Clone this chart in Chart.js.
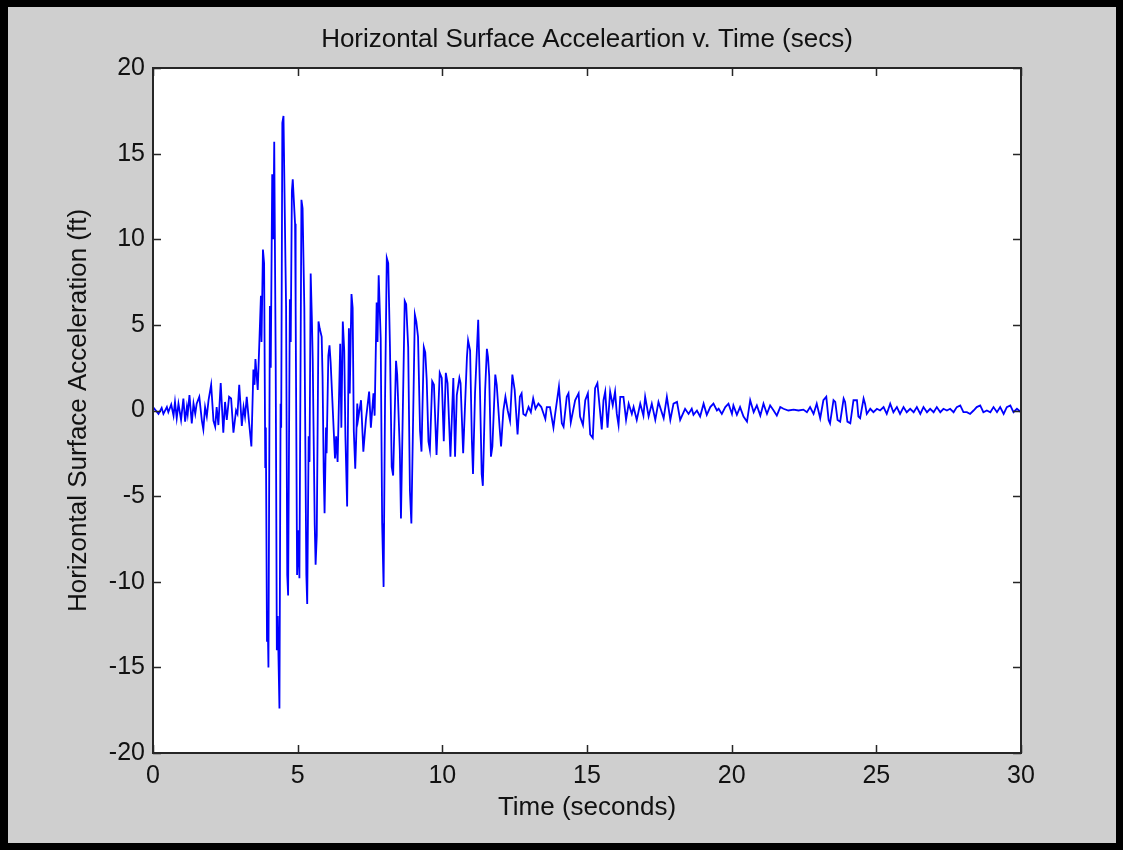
<!doctype html>
<html>

<head>
    <title>Horizontal Surface Acceleration</title>
    <script src="https://cdn.jsdelivr.net/npm/chart.js@4.4.1/dist/chart.umd.min.js"></script>
    <style>
        html, body {
            margin: 0;
            padding: 0;
            background: #000;
            overflow: hidden;
        }
        canvas {
            display: block;
        }
    </style>
</head>

<body>
<canvas id="chart-area" width="1123" height="850"></canvas>

<script>
    // time (s) and acceleration
    var timeSec = [
        0.00, 0.19, 0.30, 0.36, 0.48, 0.53, 0.63, 0.71, 0.76, 0.82, 0.88, 0.97, 1.05, 1.11, 1.17, 1.20,
        1.26, 1.34, 1.40, 1.46, 1.51, 1.60, 1.69, 1.74, 1.80, 1.86, 1.92, 2.01, 2.09, 2.15, 2.20, 2.26,
        2.34, 2.43, 2.49, 2.55, 2.63, 2.70, 2.78, 2.87, 2.92, 2.98, 3.07, 3.13, 3.18, 3.24, 3.32, 3.40,
        3.47, 3.51, 3.54, 3.62, 3.73, 3.75, 3.80, 3.84, 3.88, 3.90, 3.94, 3.96, 3.99, 4.04, 4.07, 4.12,
        4.16, 4.19, 4.24, 4.28, 4.31, 4.37, 4.41, 4.43, 4.47, 4.51, 4.58, 4.60, 4.64, 4.67, 4.73, 4.76,
        4.80, 4.83, 4.91, 4.93, 4.98, 5.03, 5.06, 5.13, 5.17, 5.23, 5.30, 5.33, 5.38, 5.41, 5.45, 5.49,
        5.52, 5.59, 5.62, 5.66, 5.72, 5.76, 5.83, 5.86, 5.90, 5.93, 5.98, 6.00, 6.06, 6.10, 6.14, 6.29,
        6.33, 6.38, 6.47, 6.51, 6.56, 6.61, 6.65, 6.71, 6.77, 6.80, 6.86, 6.90, 6.94, 6.99, 7.06, 7.09,
        7.19, 7.27, 7.36, 7.47, 7.53, 7.62, 7.66, 7.73, 7.76, 7.80, 7.87, 7.92, 7.94, 7.97, 8.02, 8.08,
        8.13, 8.19, 8.25, 8.30, 8.40, 8.44, 8.53, 8.57, 8.70, 8.75, 8.82, 8.88, 8.93, 9.05, 9.10, 9.16,
        9.23, 9.28, 9.36, 9.41, 9.46, 9.52, 9.57, 9.65, 9.71, 9.80, 9.91, 9.98, 10.05, 10.12, 10.18, 10.28,
        10.38, 10.44, 10.50, 10.59, 10.63, 10.72, 10.85, 10.89, 10.96, 11.02, 11.06, 11.13, 11.24, 11.30, 11.36, 11.40,
        11.48, 11.54, 11.58, 11.62, 11.68, 11.73, 11.83, 11.88, 11.98, 12.03, 12.11, 12.18, 12.26, 12.34, 12.42, 12.50,
        12.60, 12.68, 12.74, 12.80, 12.88, 12.98, 13.06, 13.14, 13.22, 13.32, 13.42, 13.56, 13.61, 13.72, 13.84, 13.90,
        14.03, 14.13, 14.19, 14.30, 14.36, 14.44, 14.59, 14.71, 14.76, 14.86, 14.94, 15.03, 15.11, 15.20, 15.28, 15.36,
        15.46, 15.51, 15.57, 15.63, 15.71, 15.80, 15.89, 15.97, 16.03, 16.09, 16.15, 16.26, 16.35, 16.44, 16.55, 16.61,
        16.72, 16.84, 16.95, 17.01, 17.13, 17.24, 17.36, 17.47, 17.65, 17.76, 17.88, 17.99, 18.11, 18.22, 18.39, 18.51,
        18.62, 18.68, 18.80, 18.91, 19.03, 19.14, 19.26, 19.37, 19.49, 19.55, 19.66, 19.78, 19.89, 20.01, 20.06, 20.18,
        20.29, 20.41, 20.53, 20.64, 20.76, 20.87, 20.99, 21.10, 21.22, 21.33, 21.45, 21.56, 21.68, 21.79, 21.96, 22.14,
        22.31, 22.48, 22.60, 22.71, 22.83, 22.94, 23.06, 23.17, 23.27, 23.35, 23.40, 23.52, 23.58, 23.66, 23.75, 23.87,
        23.92, 24.00, 24.10, 24.21, 24.33, 24.38, 24.44, 24.56, 24.61, 24.67, 24.79, 24.90, 25.02, 25.13, 25.25, 25.36,
        25.48, 25.59, 25.71, 25.82, 25.94, 26.05, 26.17, 26.29, 26.40, 26.52, 26.63, 26.75, 26.86, 26.98, 27.09, 27.21,
        27.32, 27.44, 27.55, 27.67, 27.78, 27.90, 28.01, 28.13, 28.24, 28.36, 28.47, 28.59, 28.70, 28.82, 28.94, 29.05,
        29.17, 29.28, 29.40, 29.51, 29.63, 29.74, 29.86, 30.00
    ];

    var accel = [
        0.2, -0.2, 0.15, -0.2, 0.2, -0.1, 0.35, -0.3, 0.5, -0.45, 0.4, -0.55, 0.7, -0.65, 0.2, -0.2,
        0.9, -0.75, 0.4, -0.2, 0.4, 0.8, -0.6, -1.1, 0.2, -0.35, 0.6, 1.5, -0.6, -0.95, 0.2, -0.85,
        1.6, -1.3, 0.5, -0.55, 0.8, 0.7, -1.3, 0.0, -0.2, 1.5, -0.9, 0.2, -0.35, 0.8, -0.7, -2.1,
        2.4, 1.5, 3.0, 1.2, 6.7, 4.0, 9.4, 8.6, -3.3, -1.0, -13.5, -11.7, -15.0, 6.1, 2.5, 13.8,
        10.0, 15.7, 3.0, -14.0, -12.0, -17.4, 0.4, -1.0, 16.8, 17.2, 8.4, 6.0, -9.6, -10.8, 6.5, 4.0,
        12.8, 13.5, 10.9, 6.0, -9.6, -7.0, -9.8, 12.3, 11.8, 6.0, -9.6, -11.3, -1.5, -3.0, 8.0, 5.4,
        3.0, -6.7, -9.0, -7.3, 5.2, 4.8, 4.3, 2.0, -3.6, -6.0, -1.0, -2.5, 3.2, 3.8, 2.8, -2.8,
        -1.5, -3.0, 3.9, -1.0, 5.2, 3.5, -1.5, -5.6, 4.8, 1.0, 6.8, 6.0, -1.2, -3.4, 0.4, -0.5,
        0.6, -2.4, -0.5, 1.1, -1.0, 1.0, -0.3, 6.3, 4.0, 7.9, 4.2, -6.6, -8.1, -10.3, 0.6, 8.9,
        8.6, 3.7, -3.3, -3.8, 2.9, 2.1, -2.3, -6.3, 6.4, 6.2, 3.7, -4.7, -6.6, 5.6, 5.2, 4.3,
        -1.2, -2.4, 3.7, 3.4, 1.8, -1.8, -2.3, 1.7, 1.5, -2.6, 2.2, 1.9, -1.8, 2.2, 1.6, -2.7,
        1.9, -2.7, 0.9, 1.9, 1.6, -2.5, 3.1, 4.1, 3.5, -1.7, -3.7, 1.0, 5.3, 1.2, -3.7, -4.4,
        1.2, 3.6, 3.1, 2.0, -2.7, -2.1, 2.1, 1.5, -1.0, -2.1, 0.0, 0.8, 0.0, -0.6, 2.1, 1.2,
        -1.4, 0.8, 1.0, -0.2, -0.3, 0.2, -0.1, 0.7, 0.1, 0.4, 0.2, -0.5, 0.2, 0.2, -1.0, -0.2,
        1.4, -0.75, -0.95, 0.8, 1.0, -0.7, 0.6, 1.0, -0.36, -0.85, 0.6, 1.0, -1.4, -1.6, 1.3, 1.6,
        -0.2, -1.1, 0.6, 1.1, -1.0, 1.1, 0.3, 1.1, -0.2, -0.85, 0.8, 0.8, -0.55, 0.4, -0.2, 0.2,
        -0.55, 0.4, -0.3, 0.8, -0.35, 0.4, -0.55, 0.5, -0.45, 0.8, -0.55, 0.4, 0.5, -0.55, 0.1, -0.2,
        0.1, -0.25, 0.0, -0.35, 0.4, -0.25, 0.2, 0.4, 0.0, 0.1, -0.2, 0.2, 0.4, -0.2, 0.3, -0.25,
        0.2, -0.35, -0.65, 0.6, -0.1, 0.3, -0.3, 0.4, -0.2, 0.3, 0.0, -0.3, 0.2, 0.1, 0.0, 0.05,
        0.0, 0.05, -0.1, 0.2, -0.2, 0.4, -0.45, 0.6, 0.8, -0.55, -0.75, 0.6, 0.5, -0.55, -0.65, 0.7,
        0.5, -0.65, -0.75, 0.6, 0.6, -0.35, -0.45, 0.7, 0.4, -0.2, 0.1, -0.1, 0.1, 0.0, 0.2, -0.2,
        0.4, -0.1, 0.2, -0.2, 0.2, -0.1, 0.1, -0.1, 0.2, -0.2, 0.2, -0.1, 0.1, -0.1, 0.2, -0.1,
        0.1, 0.0, 0.1, -0.1, 0.2, 0.3, -0.1, -0.1, -0.2, 0.0, 0.2, 0.3, -0.1, 0.0, -0.1, 0.2,
        -0.1, 0.2, -0.2, 0.2, 0.3, -0.1, 0.1, -0.1
    ];

    var xTicks = [0, 5, 10, 15, 20, 25, 30];
    var yTicks = [-20, -15, -10, -5, 0, 5, 10, 15, 20];

    var points = timeSec.map(function(t, i) {
        return {x: t, y: accel[i]};
    });

    var fontName = '"Liberation Sans", Arial, sans-serif';

    // gray figure, black frame, white axes background
    var backdrop = {
        id: 'backdrop',
        beforeDraw: function(chart) {
            var ctx = chart.ctx;
            var a = chart.chartArea;
            ctx.save();
            ctx.fillStyle = '#000';
            ctx.fillRect(0, 0, chart.width, chart.height);
            ctx.fillStyle = '#cfcfcf';
            ctx.fillRect(8, 7, chart.width - 15, chart.height - 14);
            ctx.fillStyle = '#fff';
            ctx.fillRect(a.left, a.top, a.right - a.left, a.bottom - a.top);
            ctx.restore();
        }
    };

    // matlab style box with inward ticks on all four sides
    var boxTicks = {
        id: 'boxTicks',
        afterDraw: function(chart) {
            var ctx = chart.ctx;
            var a = chart.chartArea;
            var xs = chart.scales.x;
            var ys = chart.scales.y;
            var len = 8;
            ctx.save();
            ctx.strokeStyle = '#262626';
            ctx.lineWidth = 1.5;
            ctx.beginPath();
            xTicks.forEach(function(v) {
                var px = Math.round(xs.getPixelForValue(v)) + 0.5;
                ctx.moveTo(px, a.bottom);
                ctx.lineTo(px, a.bottom - len);
                ctx.moveTo(px, a.top);
                ctx.lineTo(px, a.top + len);
            });
            yTicks.forEach(function(v) {
                var py = Math.round(ys.getPixelForValue(v)) + 0.5;
                ctx.moveTo(a.left, py);
                ctx.lineTo(a.left + len, py);
                ctx.moveTo(a.right, py);
                ctx.lineTo(a.right - len, py);
            });
            ctx.stroke();
            ctx.lineWidth = 2;
            ctx.strokeRect(a.left, a.top, a.right - a.left, a.bottom - a.top);
            ctx.restore();
        }
    };

    var config = {
        type: 'line',
        data: {
            datasets: [{
                label: 'Acceleration',
                data: points,
                borderColor: '#0000ff',
                borderWidth: 1.8,
                pointRadius: 0,
                tension: 0,
                fill: false
            }]
        },
        options: {
            responsive: false,
            animation: false,
            layout: {
                padding: {left: 0, right: 102, top: 0, bottom: 0}
            },
            plugins: {
                legend: {display: false},
                tooltip: {enabled: false},
                title: {
                    display: true,
                    fullSize: false,
                    text: 'Horizontal Surface Acceleartion v. Time (secs)',
                    color: '#111',
                    font: {family: fontName, size: 26, weight: 'normal'},
                    padding: {top: 24.4, bottom: 12.4}
                }
            },
            scales: {
                x: {
                    type: 'linear',
                    min: 0,
                    max: 30,
                    afterFit: function(scale) { scale.height = 97; },
                    afterBuildTicks: function(scale) {
                        scale.ticks = xTicks.map(function(v) { return {value: v}; });
                    },
                    grid: {display: false, drawTicks: false},
                    border: {display: false},
                    ticks: {
                        color: '#111',
                        padding: 8,
                        maxRotation: 0,
                        font: {family: fontName, size: 25}
                    },
                    title: {
                        display: true,
                        text: 'Time (seconds)',
                        color: '#111',
                        font: {family: fontName, size: 26},
                        padding: {top: 0, bottom: 26.4}
                    }
                },
                y: {
                    min: -20,
                    max: 20,
                    afterFit: function(scale) { scale.width = 153; },
                    afterBuildTicks: function(scale) {
                        scale.ticks = yTicks.map(function(v) { return {value: v}; });
                    },
                    grid: {display: false, drawTicks: false},
                    border: {display: false},
                    ticks: {
                        color: '#111',
                        padding: 8,
                        font: {family: fontName, size: 25}
                    },
                    title: {
                        display: true,
                        text: 'Horizontal Surface Acceleration (ft)',
                        color: '#111',
                        font: {family: fontName, size: 26},
                        padding: {top: 63.4, bottom: 0}
                    }
                }
            }
        },
        plugins: [backdrop, boxTicks]
    };

    window.onload = function() {
        var ctx = document.getElementById('chart-area').getContext('2d');
        window.myChart = new Chart(ctx, config);
    };
</script>
</body>

</html>
